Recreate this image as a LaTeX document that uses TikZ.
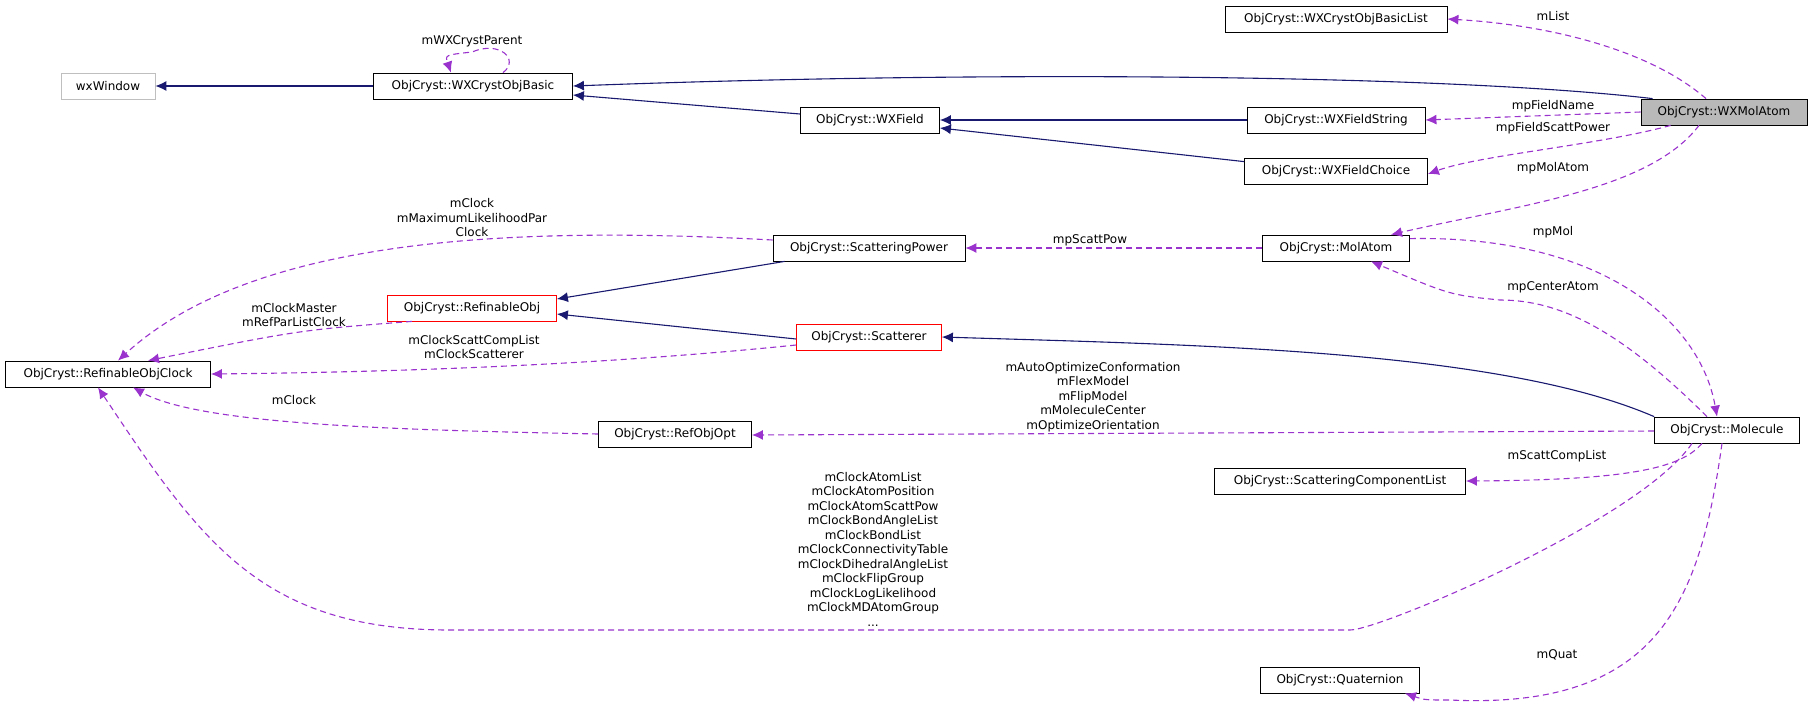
\documentclass[tikz,border=0pt]{standalone}
\usepackage{fontspec}
\setmainfont{DejaVu Sans}
\usetikzlibrary{arrows.meta,positioning}
\definecolor{navy}{HTML}{191970}
\definecolor{lilac}{HTML}{9A32CD}
\begin{document}
\begin{tikzpicture}[x=1pt,y=-1pt,
    box/.style={draw,thick,inner sep=0pt,minimum height=26pt,font=\fontsize{12}{14.5}\selectfont},
    lbl/.style={font=\fontsize{12}{14.5}\selectfont,align=center,inner sep=0pt,text=black},
    inh/.style={navy,line width=1.1pt,-{Latex[length=11pt,width=10pt]}},
    use/.style={lilac,line width=1.1pt,dash pattern=on 6pt off 4pt,-{Latex[length=11pt,width=10pt]}}]
\useasboundingbox (0,0) rectangle (1809,705);
% nodes
\node[box,draw=gray!50,minimum width=94pt] (win) at (108,86) {wxWindow};
\node[box,minimum width=199pt] (basic) at (473,86) {ObjCryst::WXCrystObjBasic};
\node[box,minimum width=222pt] (list) at (1336,19) {ObjCryst::WXCrystObjBasicList};
\node[box,minimum width=139pt] (field) at (870,120) {ObjCryst::WXField};
\node[box,minimum width=178pt] (fstr) at (1336,120) {ObjCryst::WXFieldString};
\node[box,minimum width=183pt] (fchoice) at (1336,171) {ObjCryst::WXFieldChoice};
\node[box,fill=gray!55,minimum width=166pt] (wxmol) at (1724,112) {ObjCryst::WXMolAtom};
\node[box,minimum width=192pt] (spow) at (869,248) {ObjCryst::ScatteringPower};
\node[box,minimum width=147pt] (molatom) at (1336,248) {ObjCryst::MolAtom};
\node[box,draw=red,minimum width=169pt] (refobj) at (472,308) {ObjCryst::RefinableObj};
\node[box,draw=red,minimum width=145pt] (scatt) at (869,337) {ObjCryst::Scatterer};
\node[box,minimum width=205pt] (clock) at (108,374) {ObjCryst::RefinableObjClock};
\node[box,minimum width=153pt] (opt) at (675,434) {ObjCryst::RefObjOpt};
\node[box,minimum width=145pt] (mol) at (1727,430) {ObjCryst::Molecule};
\node[box,minimum width=251pt] (comp) at (1340,481) {ObjCryst::ScatteringComponentList};
\node[box,minimum width=159pt] (quat) at (1340,680) {ObjCryst::Quaternion};
% inheritance
\draw[inh] (basic) -- (win);
\draw[inh] (wxmol.north west) ++(12,0) .. controls (1450,75) and (1000,70) .. (basic.east);
\draw[inh] (field.west) ++(0,-6) -- ([yshift=-9]basic.east);
\draw[inh] (fstr) -- (field);
\draw[inh] (fchoice.north west) ++(0,4) -- ([yshift=-8]field.east);
\draw[inh] (spow.south west) ++(12,0) -- ([yshift=9]refobj.east);
\draw[inh] (scatt.west) ++(0,2) -- ([yshift=-6]refobj.east);
\draw[inh] (mol.north west) .. controls (1500,350) and (1200,345) .. (scatt.east);
% members
\draw[use] (wxmol.north) ++(-18,0) .. controls (1650,50) and (1550,25) .. (list.east);
\draw[use] (wxmol.west) -- (fstr.east);
\draw[use] (wxmol.south west) ++(30,0) .. controls (1600,145) and (1480,155) .. ([yshift=-3]fchoice.east);
\draw[use] (wxmol.south) ++(-25,0) .. controls (1650,190) and (1520,205) .. ([xshift=55]molatom.north);
\draw[use] (basic.north) ++(30,0) .. controls (520,60) and (500,40) .. (472,52) .. controls (445,55) .. ([xshift=-22]basic.north);
\draw[use] (molatom) -- (spow);
\draw[use] (molatom.north east) ++(0,4) .. controls (1600,235) and (1700,320) .. ([xshift=-10]mol.north);
\draw[use] ([xshift=-20]mol.north) .. controls (1620,330) and (1560,300) .. (1500,300) .. controls (1450,295) .. ([xshift=35]molatom.south);
\draw[use] (spow.west) ++(0,-8) .. controls (500,225) and (250,240) .. ([xshift=10]clock.north);
\draw[use] ([xshift=-60]refobj.south) .. controls (300,330) .. ([xshift=40]clock.north);
\draw[use] (scatt.west) ++(0,8) .. controls (600,365) and (400,372) .. (clock.east);
\draw[use] (opt.west) .. controls (400,430) and (200,425) .. ([xshift=25]clock.south);
\draw[use] (mol.west) ++(0,1) -- ([yshift=-1]opt.east);
\draw[use] ([xshift=-25]mol.south) .. controls (1680,470) and (1620,480) .. (comp.east);
\draw[use] ([xshift=-35]mol.south) .. controls (1640,520) and (1380,630) .. (1350,630) -- (450,630) .. controls (260,630) and (200,540) .. ([xshift=-10]clock.south);
\draw[use] ([xshift=-5]mol.south) .. controls (1700,600) and (1660,710) .. (1450,700) .. controls (1425,700) .. ([xshift=65]quat.south);
% labels
\node[lbl] (lloop) at (472,41) {mWXCrystParent};
\node[lbl] (llist) at (1553,16) {mList};
\node[lbl] (lname) at (1553,106) {mpFieldName};
\node[lbl] (lpow) at (1553,128) {mpFieldScattPower};
\node[lbl] (lmolatom) at (1553,168) {mpMolAtom};
\node[lbl] (lscatt) at (1090,240) {mpScattPow};
\node[lbl] (lmol) at (1553,232) {mpMol};
\node[lbl] (lcenter) at (1553,287) {mpCenterAtom};
\node[lbl] (lclocka) at (472,218) {mClock\\mMaximumLikelihoodPar\\Clock};
\node[lbl] (lmaster) at (294,315) {mClockMaster\\mRefParListClock};
\node[lbl] (lcomp) at (474,347) {mClockScattCompList\\mClockScatterer};
\node[lbl] (lclockb) at (294,400) {mClock};
\node[lbl] (lauto) at (1093,397) {mAutoOptimizeConformation\\mFlexModel\\mFlipModel\\mMoleculeCenter\\mOptimizeOrientation};
\node[lbl] (lscl) at (1557,456) {mScattCompList};
\node[lbl] (lquat) at (1557,655) {mQuat};
\node[lbl] (lmany) at (873,549) {mClockAtomList\\mClockAtomPosition\\mClockAtomScattPow\\mClockBondAngleList\\mClockBondList\\mClockConnectivityTable\\mClockDihedralAngleList\\mClockFlipGroup\\mClockLogLikelihood\\mClockMDAtomGroup\\...};
\end{tikzpicture}
\end{document}
